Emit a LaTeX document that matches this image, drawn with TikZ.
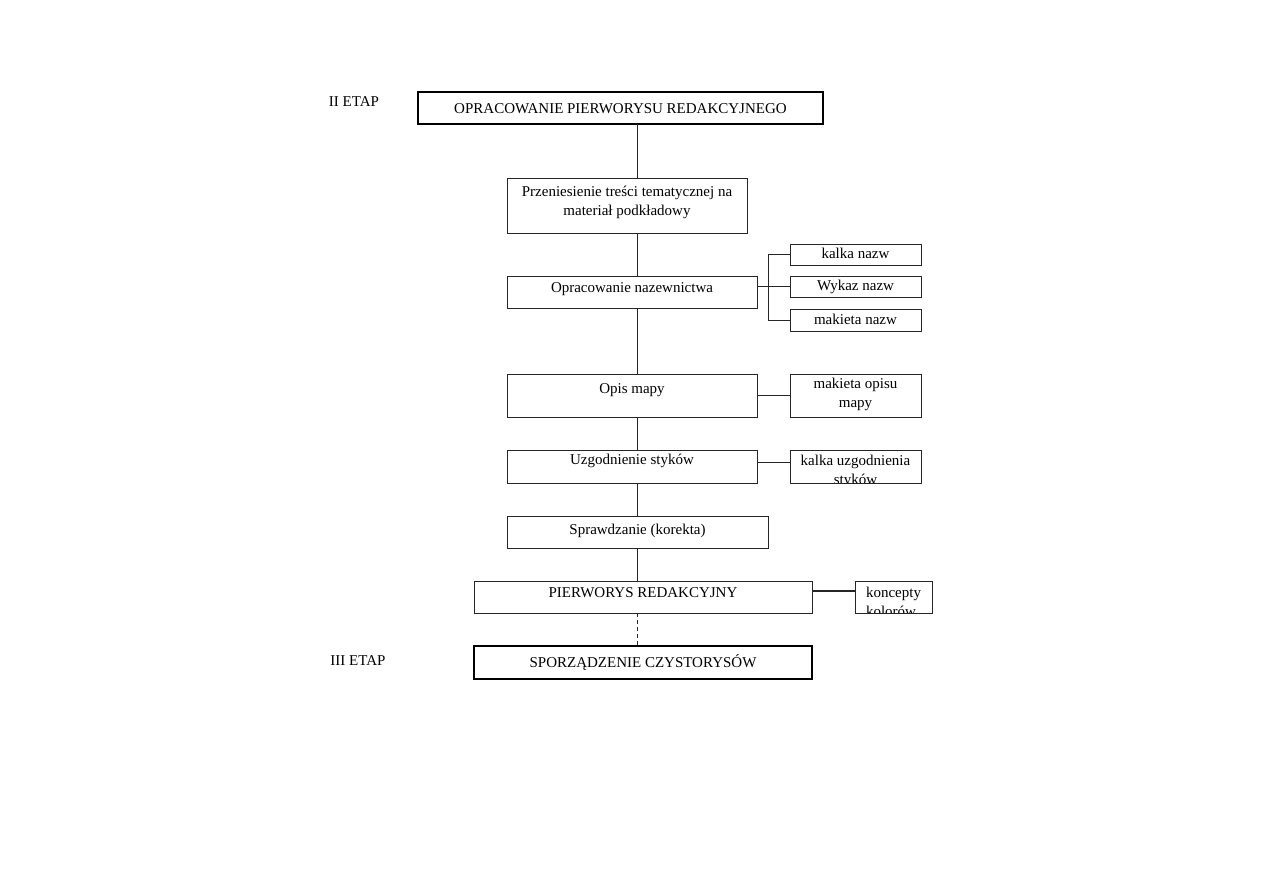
\documentclass[tikz,border=0pt]{standalone}
\usepackage{fontspec}
\setmainfont{Liberation Serif}
\newcommand\boxtxt[2]{\raisebox{#1pt}[0pt][0pt]{\begin{tabular}{@{}c@{}}#2\end{tabular}}}
\newcommand\boxtxtl[2]{\raisebox{#1pt}[0pt][0pt]{\begin{tabular}{@{}l@{}}#2\end{tabular}}}
\begin{document}
\begin{tikzpicture}[x=1pt,y=-1pt,
  font=\fontsize{15}{19}\selectfont,
  every node/.style={inner sep=0pt,outer sep=0pt},
  box/.style={draw=black!85,line width=0.9pt,fill=white},
  thickbox/.style={draw=black,line width=1.9pt,fill=white},
  conn/.style={draw=black!85,line width=0.9pt},
  boldconn/.style={draw=black!85,line width=2pt},
  dashconn/.style={draw=black!85,line width=0.9pt,dash pattern=on 4pt off 3pt},
  etaplabel/.style={text=black}]
\path[use as bounding box,fill=white] (0,0) rectangle (1263,893);

\node[etaplabel] (e2) at (354,102) {II ETAP};
\node[etaplabel] (e3) at (358,661) {III ETAP};

\node[thickbox,minimum width=405pt,minimum height=32pt] (top) at (620.5,108)
  {\boxtxt{-5}{OPRACOWANIE PIERWORYSU REDAKCYJNEGO}};
\node[box,minimum width=240pt,minimum height=55pt] (przen) at (627,205.5)
  {\boxtxt{0}{Przeniesienie treści tematycznej na\\materiał podkładowy}};
\node[box,minimum width=250pt,minimum height=32pt] (nazew) at (632,292)
  {\boxtxt{0}{Opracowanie nazewnictwa}};
\node[box,minimum width=131pt,minimum height=21pt] (kalka) at (855.5,254.5)
  {\boxtxt{-4}{kalka nazw}};
\node[box,minimum width=131pt,minimum height=21pt] (wykaz) at (855.5,286.5)
  {\boxtxt{-4}{Wykaz nazw}};
\node[box,minimum width=131pt,minimum height=22pt] (maknazw) at (855.5,320)
  {\boxtxt{-4}{makieta nazw}};
\node[box,minimum width=250pt,minimum height=43pt] (opis) at (632,395.5)
  {\boxtxt{2.5}{Opis mapy}};
\node[box,minimum width=131pt,minimum height=43pt] (makopis) at (855.5,395.5)
  {\boxtxt{-2}{makieta opisu\\mapy}};
\node[box,minimum width=250pt,minimum height=33pt] (uzg) at (632,466.5)
  {\boxtxt{2.5}{Uzgodnienie styków}};
\node[box,minimum width=131pt,minimum height=33pt,
  path picture={\node at (path picture bounding box.center)
    {\boxtxt{-8.5}{kalka uzgodnienia\\styków}};}] (kuzg) at (855.5,466.5) {};
\node[box,minimum width=261pt,minimum height=32pt] (spr) at (637.5,532)
  {\boxtxt{-2}{Sprawdzanie (korekta)}};
\node[box,minimum width=338pt,minimum height=32pt] (pierw) at (643,597)
  {\boxtxt{0}{PIERWORYS REDAKCYJNY}};
\node[box,minimum width=77pt,minimum height=32pt,
  path picture={\node at (path picture bounding box.center)
    {\boxtxtl{-9.5}{koncepty\\kolorów}};}] (konc) at (893.5,597) {};
\node[thickbox,minimum width=338pt,minimum height=33pt] (czyst) at (643,662.5)
  {\boxtxt{-4.5}{SPORZĄDZENIE CZYSTORYSÓW}};

% main axis
\coordinate (ax) at (637,0);
\coordinate (br) at (768,0);
\draw[conn] (top.south -| ax) -- (przen.north -| ax);
\draw[conn] (przen.south -| ax) -- (nazew.north -| ax);
\draw[conn] (nazew.south -| ax) -- (opis.north -| ax);
\draw[conn] (opis.south -| ax) -- (uzg.north -| ax);
\draw[conn] (uzg.south -| ax) -- (spr.north -| ax);
\draw[conn] (spr.south -| ax) -- (pierw.north -| ax);
\draw[dashconn] (pierw.south -| ax) -- (czyst.north -| ax);

% side connectors
\draw[conn] (kalka.west) -- (kalka.west -| br) -- (maknazw.west -| br) -- (maknazw.west);
\draw[conn] (nazew.east |- wykaz.west) -- (wykaz.west);
\draw[conn] (opis.east) -- (makopis.west);
\draw[conn] ([yshift=4.5pt]uzg.east) -- ([yshift=4.5pt]kuzg.west);
\draw[boldconn] ([yshift=6pt]pierw.east) -- ([yshift=6pt]konc.west);
\end{tikzpicture}
\end{document}
